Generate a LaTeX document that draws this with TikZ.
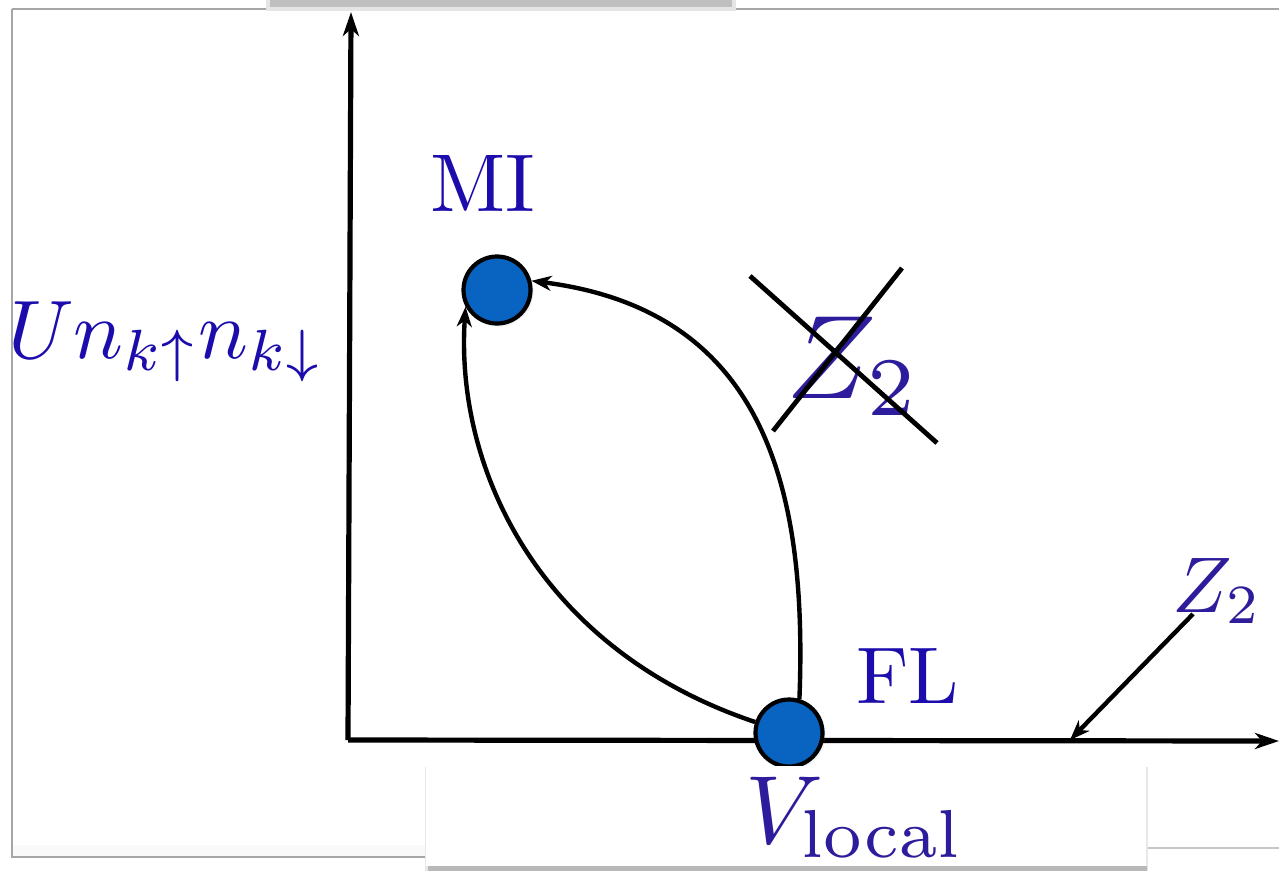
\documentclass[tikz,border=0pt]{standalone}
\usetikzlibrary{arrows.meta,shadows}
\definecolor{txtblue}{RGB}{28,12,172}
\definecolor{txtviolet}{RGB}{45,28,155}
\definecolor{ballblue}{RGB}{8,100,192}
\begin{document}
\begin{tikzpicture}[x=1pt,y=-1pt,
  lbl/.style={text=txtblue, inner sep=0pt, anchor=base west},
  lblv/.style={text=txtviolet, inner sep=0pt, anchor=base west},
  ball/.style={circle, draw=black, line width=4.2pt, fill=ballblue, minimum size=67pt, inner sep=0pt,
    circular drop shadow={opacity=0.25, shadow xshift=1.5pt, shadow yshift=-1.5pt, shadow scale=1.06}},
  axis/.style={line width=5.2pt, -{Stealth[length=24pt,width=16pt,inset=7pt]}},
  flow/.style={line width=4.4pt, -{Stealth[length=20pt,width=15pt,inset=6pt]}},
  crossline/.style={line width=4.8pt},
  frameline/.style={draw=gray!70, line width=2.6pt}]
\useasboundingbox (0,0) rectangle (1279,871);
% window frame
\fill[gray!5] (12,845) rectangle (426,857);
\draw[frameline] (12,9) -- (1279,9);
\draw[frameline] (12,9) -- (12,857) -- (426,857);
\draw[draw=gray!45, line width=1.8pt] (1146,848) -- (1279,848);
\fill[gray!20] (266,0) rectangle (736,11);
\fill[gray!50] (270,0) rectangle (732,7);
% axes
\coordinate (orig) at (348,740);
\coordinate (ytop) at (351,12);
\coordinate (xend) at (1279,741);
\draw[axis] (orig) -- (ytop);
\draw[axis] (orig) -- (xend);
% states
\node[ball] (mi) at (497,290) {};
\node[ball] (fl) at (789,733) {};
% flows
\draw[flow] (fl.162) .. controls (540,650) and (455,470) .. (mi.208);
\draw[flow] (fl.73) .. controls (808,480) and (760,310) .. (mi.15);
% labels
\node[lbl] (milbl) at (430,211) {\scalebox{8.2}{MI}};
\node[lbl] (fllbl) at (856,703) {\scalebox{8.05}{FL}};
\node[lbl] (ulbl) at (8,358) {\scalebox{8.3}{$Un_{k\uparrow}n_{k\downarrow}$}};
\node[lblv] (z2x) at (786,398) {\scalebox{11.9}{$Z_2$}};
\node[lblv] (z2r) at (1172,612) {\scalebox{7.9}{$Z_2$}};
% crossed Z2
\coordinate (ca1) at (750,276);
\coordinate (ca2) at (937,443);
\coordinate (cb1) at (902,268);
\coordinate (cb2) at (773,431);
\draw[crossline] (ca1) -- (ca2);
\draw[crossline] (cb1) -- (cb2);
% Z2 pointer
\coordinate (zs) at (1193,614);
\coordinate (ze) at (1070,740);
\draw[flow] (zs) -- (ze);
% bottom caption box
\fill[gray!18] (425,767) rectangle (1148,871);
\fill[gray!55] (428,866) rectangle (1147,871);
\fill[white] (426,766) rectangle (1146,866);
\node[lblv] (vloc) at (745,843) {\scalebox{9.7}{$V_{\mathrm{local}}$}};
\end{tikzpicture}
\end{document}
